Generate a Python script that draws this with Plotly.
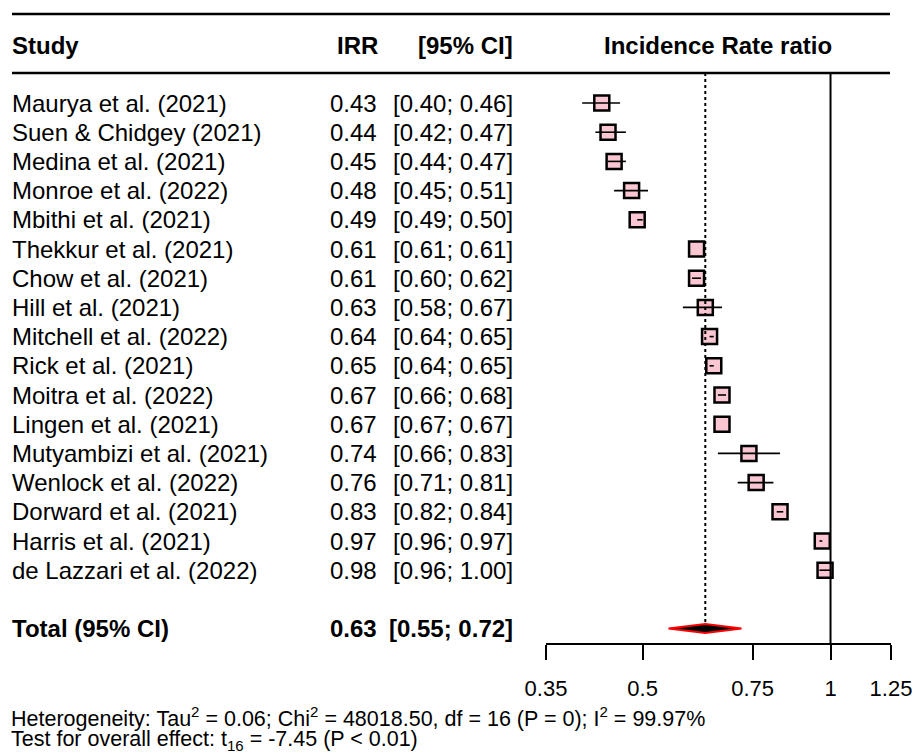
import plotly.graph_objects as go

studies = ["Maurya et al. (2021)", "Suen & Chidgey (2021)", "Medina et al. (2021)",
           "Monroe et al. (2022)", "Mbithi et al. (2021)", "Thekkur et al. (2021)",
           "Chow et al. (2021)", "Hill et al. (2021)", "Mitchell et al. (2022)",
           "Rick et al. (2021)", "Moitra et al. (2022)", "Lingen et al. (2021)",
           "Mutyambizi et al. (2021)", "Wenlock et al. (2022)", "Dorward et al. (2021)",
           "Harris et al. (2021)", "de Lazzari et al. (2022)"]
irr = [0.43, 0.44, 0.45, 0.48, 0.49, 0.61, 0.61, 0.63, 0.64, 0.65, 0.67, 0.67, 0.74, 0.76, 0.83, 0.97, 0.98]
ci_lo = [0.40, 0.42, 0.44, 0.45, 0.49, 0.61, 0.60, 0.58, 0.64, 0.64, 0.66, 0.67, 0.66, 0.71, 0.82, 0.96, 0.96]
ci_hi = [0.46, 0.47, 0.47, 0.51, 0.50, 0.61, 0.62, 0.67, 0.65, 0.65, 0.68, 0.67, 0.83, 0.81, 0.84, 0.97, 1.00]
total_label = "Total (95% CI)"
total_irr, total_lo, total_hi = 0.63, 0.55, 0.72
tick_vals = [0.35, 0.5, 0.75, 1, 1.25]
tick_text = ["0.35", "0.5", "0.75", "1", "1.25"]
het_text = ("Heterogeneity: Tau<sup>2</sup> = 0.06; Chi<sup>2</sup> = 48018.50, "
            "df = 16 (P = 0); I<sup>2</sup> = 99.97%")
test_text = "Test for overall effect: t<sub>16</sub> = -7.45 (P < 0.01)"

W, H = 915, 756
FONT = "Liberation Sans, Arial, sans-serif"
ROW0, ROWH = 103.0, 29.2
AXIS_PY = 643.0


def idx(py):
    return (py - ROW0) / ROWH


def px(x):
    return x / W


def py_paper(y):
    return 1 - y / H


rows = list(range(len(studies)))
total_row = len(studies) + 1

fig = go.Figure()

cx, cy = [], []
for r, l, h in zip(rows, ci_lo, ci_hi):
    cx += [l, h, None]
    cy += [r, r, None]

fig.add_trace(go.Scatter(x=irr, y=rows, mode="markers",
                         marker=dict(symbol="square", size=15, color="#f9c6d2",
                                     line=dict(color="black", width=2.5)),
                         hoverinfo="skip"))
fig.add_trace(go.Scatter(x=cx, y=cy, mode="lines", line=dict(color="black", width=1.6),
                         hoverinfo="skip"))

fig.add_trace(go.Scatter(x=[1, 1], y=[idx(73), idx(AXIS_PY)], mode="lines",
                         line=dict(color="black", width=2), hoverinfo="skip"))
fig.add_trace(go.Scatter(x=[total_irr, total_irr], y=[idx(73), idx(622)], mode="lines",
                         line=dict(color="black", width=2, dash="dot"), hoverinfo="skip"))

dh = 4.5 / ROWH
fig.add_trace(go.Scatter(x=[total_lo, total_irr, total_hi, total_irr, total_lo],
                         y=[total_row, total_row - dh, total_row, total_row + dh, total_row],
                         mode="lines", fill="toself", fillcolor="black",
                         line=dict(color="red", width=2), hoverinfo="skip"))

ann = []


def text(x, y, s, anchor="left", bold=False, size=24, yref="y"):
    shift = {"left": -2, "right": 2, "center": 0}[anchor]
    ann.append(dict(x=px(x + shift), y=y, xref="paper", yref=yref,
                    text=f"<b>{s}</b>" if bold else s,
                    showarrow=False, xanchor=anchor, yanchor="middle",
                    font=dict(family=FONT, size=size, color="black")))


hdr = idx(45)
text(12, hdr, "Study", bold=True)
text(378, hdr, "IRR", anchor="right", bold=True)
text(513, hdr, "[95% CI]", anchor="right", bold=True)
text(718, hdr, "Incidence Rate ratio", anchor="center", bold=True)

for r, s, v, l, h in zip(rows, studies, irr, ci_lo, ci_hi):
    text(12, r, s)
    text(377, r, f"{v:.2f}", anchor="right")
    text(513, r, f"[{l:.2f}; {h:.2f}]", anchor="right")

text(12, total_row, total_label, bold=True)
text(377, total_row, f"{total_irr:.2f}", anchor="right", bold=True)
text(513, total_row, f"[{total_lo:.2f}; {total_hi:.2f}]", anchor="right", bold=True)

text(11, py_paper(717), het_text, size=21.5, yref="paper")
text(11, py_paper(740), test_text, size=21.5, yref="paper")

shapes = []
for yy in (14, 73):
    shapes.append(dict(type="line", xref="paper", yref="y", x0=px(12), x1=px(890),
                       y0=idx(yy), y1=idx(yy), line=dict(color="black", width=2.5)))

fig.update_layout(
    width=W, height=H, margin=dict(l=0, r=0, t=0, b=0),
    paper_bgcolor="white", plot_bgcolor="white", showlegend=False,
    annotations=ann, shapes=shapes,
    xaxis=dict(type="log", range=[-0.455932, 0.09691], domain=[px(546), px(891)],
               automargin=False,
               showgrid=False, zeroline=False, showline=True, linecolor="black", linewidth=2,
               ticks="outside", ticklen=15, tickwidth=2, tickcolor="black",
               tickvals=tick_vals, ticktext=tick_text, ticklabelstandoff=10,
               tickfont=dict(family=FONT, size=22, color="black")),
    yaxis=dict(range=[idx(AXIS_PY), idx(0)], domain=[py_paper(AXIS_PY), 1],
               automargin=False,
               visible=False, showgrid=False, zeroline=False),
)

fig.write_html("out.html", config={"displayModeBar": False},
               post_script="document.body.style.margin='0';document.body.style.overflow='hidden';")
